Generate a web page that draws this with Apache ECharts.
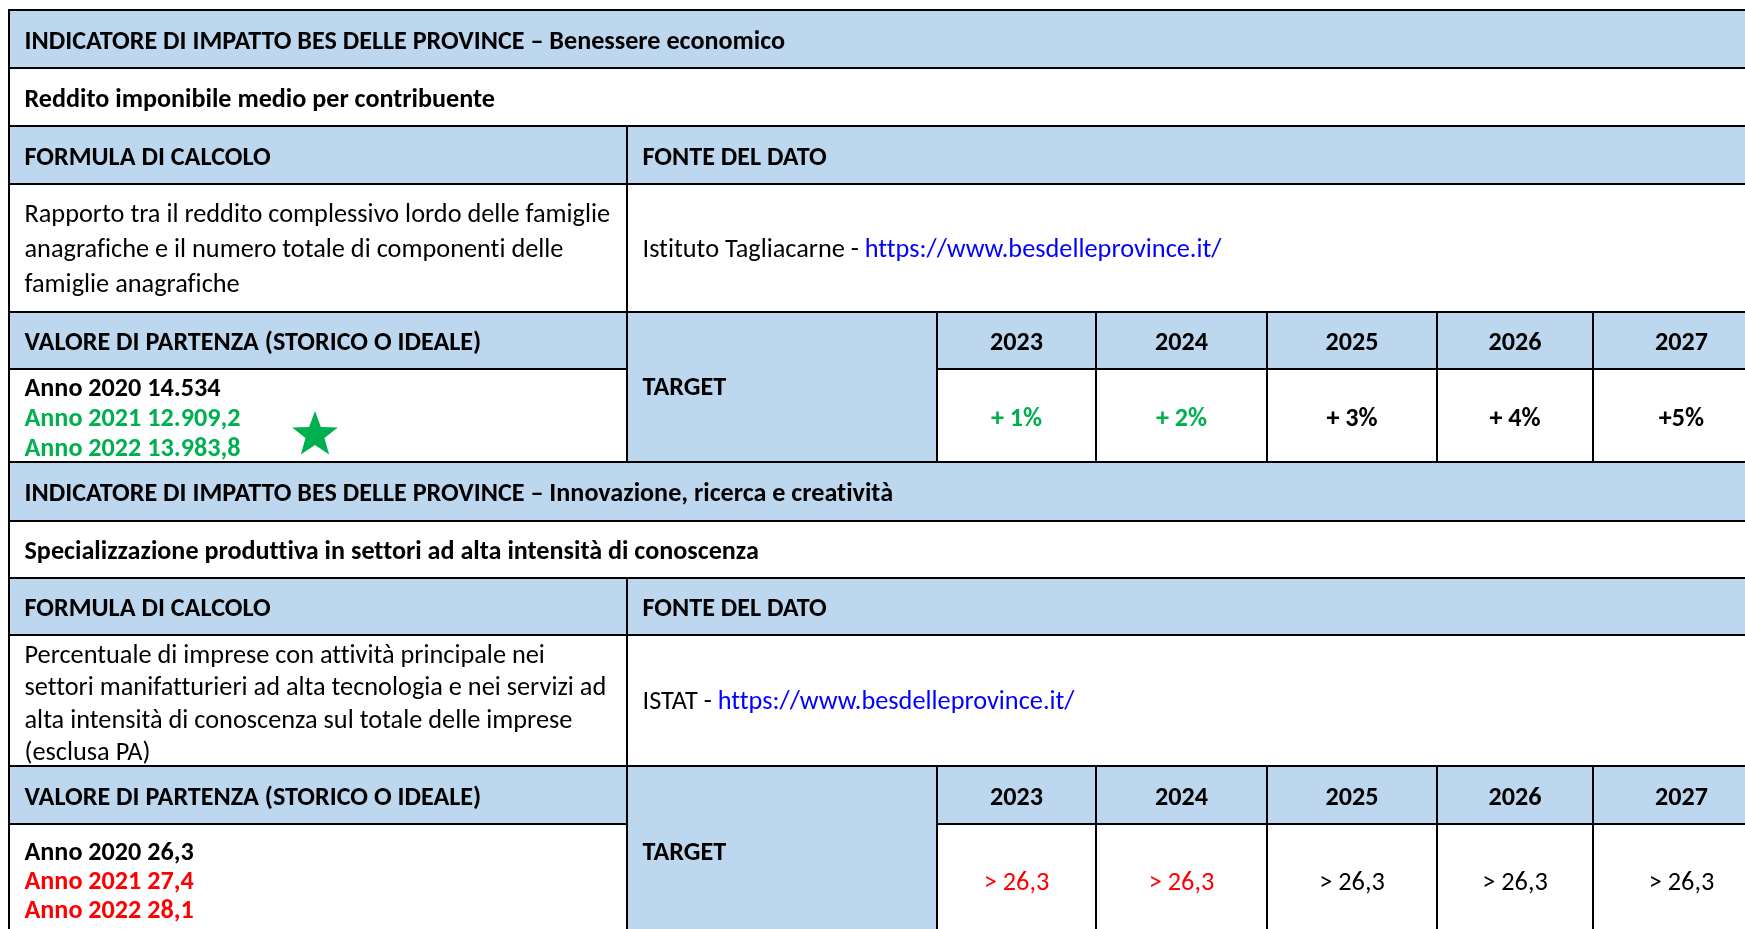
<!DOCTYPE html>
<html><head><meta charset="utf-8">
<script src="https://cdn.jsdelivr.net/npm/echarts@6/dist/echarts.min.js"></script>
<style>html,body{margin:0;padding:0;background:#fff}#main{width:1745px;height:929px}</style>
</head><body><div id="main"></div>
<script>
// ---------- DATA ----------
const sectionTitles = [
  'INDICATORE DI IMPATTO BES DELLE PROVINCE – Benessere economico',
  'INDICATORE DI IMPATTO BES DELLE PROVINCE – Innovazione, ricerca e creatività'
];
const indicatorNames = [
  'Reddito imponibile medio per contribuente',
  'Specializzazione produttiva in settori ad alta intensità di conoscenza'
];
const headerLabels = ['FORMULA DI CALCOLO', 'FONTE DEL DATO', 'VALORE DI PARTENZA (STORICO O IDEALE)', 'TARGET'];
const formulaLines1 = [
  'Rapporto tra il reddito complessivo lordo delle famiglie',
  'anagrafiche e il numero totale di componenti delle',
  'famiglie anagrafiche'
];
const formulaLines2 = [
  'Percentuale di imprese con attività principale nei',
  'settori manifatturieri ad alta tecnologia e nei servizi ad',
  'alta intensità di conoscenza sul totale delle imprese',
  '(esclusa PA)'
];
const sourceNames = ['Istituto Tagliacarne', 'ISTAT'];
const sourceUrl = 'https://www.besdelleprovince.it/';
const targetYears = ['2023', '2024', '2025', '2026', '2027'];
const baselineLines1 = ['Anno 2020 14.534', 'Anno 2021 12.909,2', 'Anno 2022 13.983,8'];
const baselineStatus1 = ['base', 'reached', 'reached'];
const targets1 = ['+ 1%', '+ 2%', '+ 3%', '+ 4%', '+5%'];
const targetStatus1 = ['reached', 'reached', 'pending', 'pending', 'pending'];
const baselineLines2 = ['Anno 2020 26,3', 'Anno 2021 27,4', 'Anno 2022 28,1'];
const baselineStatus2 = ['base', 'missed', 'missed'];
const targets2 = ['> 26,3', '> 26,3', '> 26,3', '> 26,3', '> 26,3'];
const targetStatus2 = ['missed', 'missed', 'pending', 'pending', 'pending'];

// ---------- LAYOUT / STYLE ----------
const W = 1745, H = 929;
const BLUE = '#BDD7EE';
const statusColor = { base: '#000000', pending: '#000000', reached: '#00B050', missed: '#FF0000' };
const FONT = 'Carlito, Lato, "Liberation Sans", sans-serif';
const FS = 26.3, FS_BOLD = 26.15;
const colEdges = [9, 627, 937, 1096, 1267, 1437, 1593, 1770];
const PAD = 15.5;
const HEAD_DY = 3.2;
const sections = [
  { rows: [10, 68, 126, 184, 312, 369, 462], formula: formulaLines1, fGap: 35, fOff: 2,
    base: baselineLines1, baseStatus: baselineStatus1, baseGap: 30, baseOff: 3.5, tgtLabelOff: 1.5,
    targets: targets1, tStatus: targetStatus1, tBold: true, tOff: 4, srcOff: 2, star: true },
  { rows: [462, 521, 578, 635, 766, 824, 940], formula: formulaLines2, fGap: 32.3, fOff: 4.5,
    base: baselineLines2, baseStatus: baselineStatus2, baseGap: 29, baseOff: 0.5, tgtLabelOff: 0.5,
    targets: targets2, tStatus: targetStatus2, tBold: false, tOff: 1, srcOff: 2, star: false }
];

// Render text without ligatures / kerning (as in the reference document)
(function () {
  const proto = CanvasRenderingContext2D.prototype;
  const orig = proto.fillText;
  proto.fillText = function () {
    try { this.textRendering = 'optimizeSpeed'; } catch (e) {}
    return orig.apply(this, arguments);
  };
})();

// ---------- BUILD CELLS ----------
const cells = [];
function line(text, opts) { return Object.assign({ text: text, color: '#000', bold: false, align: 'left', dy: 0 }, opts || {}); }
const xL = colEdges[0], xR = colEdges[colEdges.length - 1];
sections.forEach(function (s, si) {
  const r = s.rows;
  cells.push({ x0: xL, x1: xR, y0: r[0], y1: r[1], fill: BLUE, lines: [line(sectionTitles[si], { bold: true, dy: HEAD_DY })] });
  cells.push({ x0: xL, x1: xR, y0: r[1], y1: r[2], fill: '#fff', lines: [line(indicatorNames[si], { bold: true, dy: HEAD_DY })] });
  cells.push({ x0: xL, x1: colEdges[1], y0: r[2], y1: r[3], fill: BLUE, lines: [line(headerLabels[0], { bold: true, dy: HEAD_DY })] });
  cells.push({ x0: colEdges[1], x1: xR, y0: r[2], y1: r[3], fill: BLUE, lines: [line(headerLabels[1], { bold: true, dy: HEAD_DY })] });
  const n = s.formula.length;
  cells.push({ x0: xL, x1: colEdges[1], y0: r[3], y1: r[4], fill: '#fff',
    lines: s.formula.map(function (t, i) { return line(t, { dy: (i - (n - 1) / 2) * s.fGap + s.fOff }); }) });
  cells.push({ x0: colEdges[1], x1: xR, y0: r[3], y1: r[4], fill: '#fff',
    lines: [line(sourceNames[si] + ' - ', { url: sourceUrl, dy: s.srcOff })] });
  cells.push({ x0: xL, x1: colEdges[1], y0: r[4], y1: r[5], fill: BLUE, lines: [line(headerLabels[2], { bold: true, dy: HEAD_DY })] });
  cells.push({ x0: colEdges[1], x1: colEdges[2], y0: r[4], y1: r[6], fill: BLUE, lines: [line(headerLabels[3], { bold: true, dy: s.tgtLabelOff })] });
  targetYears.forEach(function (y, k) {
    cells.push({ x0: colEdges[2 + k], x1: colEdges[3 + k], y0: r[4], y1: r[5], fill: BLUE, lines: [line(y, { bold: true, align: 'center', dy: HEAD_DY })] });
  });
  const m = s.base.length;
  cells.push({ x0: xL, x1: colEdges[1], y0: r[5], y1: r[6], fill: '#fff', star: s.star,
    lines: s.base.map(function (t, i) { return line(t, { bold: true, color: statusColor[s.baseStatus[i]], dy: (i - (m - 1) / 2) * s.baseGap + s.baseOff }); }) });
  s.targets.forEach(function (t, k) {
    cells.push({ x0: colEdges[2 + k], x1: colEdges[3 + k], y0: r[5], y1: r[6], fill: '#fff',
      lines: [line(t, { bold: s.tBold, align: 'center', color: statusColor[s.tStatus[k]], dy: s.tOff })] });
  });
});

function starPoints(cx, cy, R, rIn) {
  const pts = [];
  for (let i = 0; i < 10; i++) {
    const a = -Math.PI / 2 + i * Math.PI / 5;
    const rr = i % 2 === 0 ? R : rIn;
    pts.push([cx + rr * Math.cos(a), cy + rr * Math.sin(a)]);
  }
  return pts;
}

function renderItem(params, api) {
  const c = cells[params.dataIndex];
  const p0 = api.coord([c.x0, c.y0]);
  const p1 = api.coord([c.x1, c.y1]);
  const children = [{
    type: 'rect',
    shape: { x: p0[0], y: p0[1], width: p1[0] - p0[0], height: p1[1] - p0[1] },
    style: { fill: c.fill, stroke: '#000', lineWidth: 2 }
  }];
  const cyMid = (p0[1] + p1[1]) / 2;
  c.lines.forEach(function (l) {
    const x = l.align === 'center' ? (p0[0] + p1[0]) / 2 : p0[0] + PAD;
    const font = (l.bold ? 'bold ' + FS_BOLD : FS) + 'px ' + FONT;
    if (l.url) {
      children.push({
        type: 'text',
        style: {
          text: '{a|' + l.text + '}{b|' + l.url + '}',
          x: x, y: cyMid + l.dy, align: 'left', verticalAlign: 'middle', font: font,
          rich: { a: { fill: '#000', color: '#000', font: font }, b: { fill: '#0000FF', color: '#0000FF', font: font } }
        }
      });
    } else {
      children.push({
        type: 'text',
        style: { text: l.text, x: x, y: cyMid + l.dy, align: l.align, verticalAlign: 'middle', font: font, fill: l.color }
      });
    }
  });
  if (c.star) {
    children.push({
      type: 'polygon',
      shape: { points: starPoints(p0[0] + 306, cyMid + 19.5, 24, 10) },
      style: { fill: '#00B050' }
    });
  }
  return { type: 'group', children: children };
}

const chart = echarts.init(document.getElementById('main'), null, { renderer: 'canvas', width: W, height: H });
chart.setOption({
  animation: false,
  backgroundColor: '#fff',
  grid: { left: 0, right: 0, top: 0, bottom: 0 },
  xAxis: { type: 'value', min: 0, max: W, show: false },
  yAxis: { type: 'value', min: 0, max: H, inverse: true, show: false },
  series: [{
    type: 'custom',
    clip: false,
    renderItem: renderItem,
    data: cells.map(function (c, i) { return [i]; }),
    encode: { x: [], y: [] }
  }]
});
</script></body></html>
